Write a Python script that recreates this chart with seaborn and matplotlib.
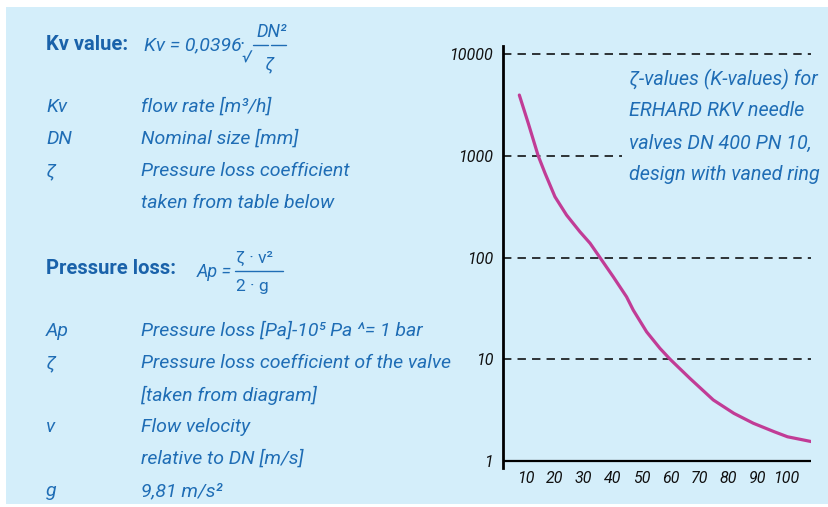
import pandas as pd
import matplotlib.pyplot as plt
import seaborn as sns
from matplotlib.patches import Rectangle
from matplotlib.lines import Line2D
from matplotlib.ticker import FixedLocator

# Curve values (nominal size vs. zeta)
dn = [7.8, 10.9, 14.3, 16.7, 20.1, 24.1, 28.7, 32.2, 35.6, 40.2, 44.8, 47.1,
      51.7, 56.3, 59.8, 66.7, 74.7, 81.8, 88.5, 95.7, 100.3, 108.6]
zeta = [3950, 2080, 1000, 670, 395, 261, 179, 138, 100, 64.6, 41, 30.4,
        18.6, 12.8, 10, 6.46, 3.98, 2.94, 2.35, 1.94, 1.73, 1.55]
x_ticks = [10, 20, 30, 40, 50, 60, 70, 80, 90, 100]
y_ticks = [1, 10, 100, 1000, 10000]
y_labels = ['1', '10', '100', '1000', '10000']
note = ['ζ-values (K-values) for', 'ERHARD RKV needle',
        'valves DN 400 PN 10,', 'design with vaned ring']

df = pd.DataFrame({'DN': dn, 'zeta': zeta})

W, H = 829, 507
PANEL = '#d4eefa'
BLUE = '#1f6db5'
HEAD = '#1a62aa'
CURVE = '#c13c96'
FS = 14

sns.set_style('white')
plt.rcParams['font.family'] = ['Roboto', 'DejaVu Sans']

fig = plt.figure(figsize=(W / 100, H / 100), dpi=100)
fig.patch.set_facecolor('white')
fig.patches.append(Rectangle((6 / W, 1 - 504 / H), 1, (504 - 7) / H,
                             transform=fig.transFigure, facecolor=PANEL,
                             edgecolor='none', zorder=-10))


def put(x, y, s, size=FS, color=BLUE, style='italic', weight='normal', **kw):
    return fig.text(x / W, 1 - y / H, s, fontsize=size, color=color, style=style,
                    weight=weight, va='center', ha='left', **kw)


def hline(x0, x1, y, lw=1.0, color=BLUE):
    fig.add_artist(Line2D([x0 / W, x1 / W], [1 - y / H, 1 - y / H],
                          transform=fig.transFigure, color=color, lw=lw))


# Kv formula block
put(46, 45, 'Kv value:', size=14.5, color=HEAD, style='normal', weight='bold')
put(144, 45, 'Kv = 0,0396', size=14)
put(239, 45, '·', size=14)
put(256, 32, 'DN²', size=13)
hline(253, 268, 45)
hline(271, 286, 45)
put(241, 58, '√', size=12)
put(265, 64, 'ζ', size=13)

rows1 = [('Kv', 'flow rate [m³/h]'), ('DN', 'Nominal size [mm]'),
         ('ζ', 'Pressure loss coefficient'), ('', 'taken from table below')]
for i, (a, b) in enumerate(rows1):
    y = 107 + 32 * i
    put(46, y, a)
    put(141, y, b)

# Pressure loss formula block
put(46, 269, 'Pressure loss:', size=14.5, color=HEAD, style='normal', weight='bold')
put(197, 272, 'Ap =', size=13)
put(236, 258, 'ζ · v²', size=12.5, style='normal')
hline(235, 283, 271)
put(236, 286, '2 · g', size=12.5, style='normal')

rows2 = [('Ap', 'Pressure loss [Pa]-10⁵ Pa ^= 1 bar'),
         ('ζ', 'Pressure loss coefficient of the valve'),
         ('', '[taken from diagram]'), ('v', 'Flow velocity'),
         ('', 'relative to DN [m/s]'), ('g', '9,81 m/s²')]
for i, (a, b) in enumerate(rows2):
    y = 331 + 32 * i
    put(46, y, a)
    put(141, y, b)

# Diagram
ax = fig.add_axes([503 / W, 1 - 468 / H, (811 - 503) / W, (468 - 46) / H])
ax.set_facecolor('none')
ax.set_yscale('log')
ax.set_xlim(2.17, 108.4)
ax.set_ylim(10 ** (-7 / 101.7), 10 ** (4 + 8 / 101.7))

for v in y_ticks[1:]:
    ax.axhline(v, color='black', lw=1.1, dashes=(5.5, 4), zorder=1)
ax.axhline(1, color='black', lw=1.6, zorder=2)

sns.lineplot(data=df, x='DN', y='zeta', ax=ax, color=CURVE, lw=2.3, zorder=3)

for s in ['top', 'right', 'bottom']:
    ax.spines[s].set_visible(False)
ax.spines['left'].set_linewidth(2.0)
ax.spines['left'].set_color('black')

ax.xaxis.set_major_locator(FixedLocator(x_ticks))
ax.set_xticklabels([str(t) for t in x_ticks], fontsize=11.5, style='italic')
ax.tick_params(axis='x', length=0, pad=2, colors='#111111')
ax.yaxis.set_major_locator(FixedLocator(y_ticks))
ax.yaxis.set_minor_locator(FixedLocator([]))
ax.set_yticklabels(y_labels, fontsize=11.5, style='italic')
ax.tick_params(axis='y', length=3, width=2, pad=4, colors='#111111')
ax.set_xlabel('')
ax.set_ylabel('')

# Note beside the curve; its background hides part of the 1000 grid line
for i, line in enumerate(note):
    t = put(629, 79 + 32 * i, line, size=14.2)
    t.set_zorder(5)
    t.set_bbox(dict(facecolor=PANEL, edgecolor='none', pad=5))

fig.savefig('out.png', dpi=100)
